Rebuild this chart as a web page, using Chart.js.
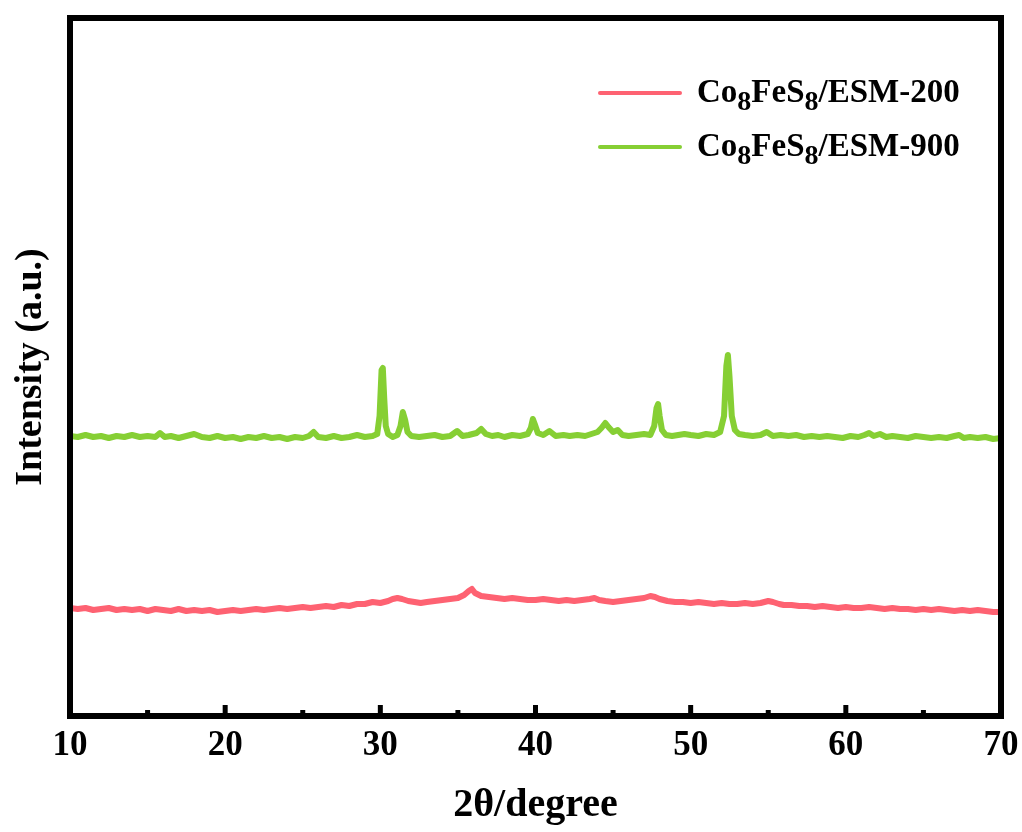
<!DOCTYPE html>
<html>
<head>
<meta charset="utf-8">
<title>XRD Co8FeS8/ESM</title>
<script src="https://cdn.jsdelivr.net/npm/chart.js@4/dist/chart.umd.min.js"></script>
<style>
  body { margin: 0; background: #fff; }
  canvas { display: block; }
</style>
</head>
<body>
<canvas id="xrdChart" width="1022" height="832"></canvas>
<script>
// 2theta (degree) and intensity (a.u., offset stacked)
const esm200Theta = [
  10.0, 10.5, 11.0, 11.5, 12.0, 12.5, 13.0, 13.5, 14.0, 14.5, 15.0, 15.5, 16.0, 16.5, 17.0, 17.5,
  18.0, 18.5, 19.0, 19.5, 20.0, 20.5, 21.0, 21.5, 22.0, 22.5, 23.0, 23.5, 24.0, 24.5, 25.0, 25.5,
  26.0, 26.5, 27.0, 27.5, 28.0, 28.5, 29.0, 29.5, 30.0, 30.5, 30.8, 31.1, 31.4, 31.8, 32.2, 32.6,
  33.0, 33.5, 34.0, 34.5, 35.0, 35.4, 35.7, 35.9, 36.1, 36.5, 37.0, 37.5, 38.0, 38.5, 39.0, 39.5,
  40.0, 40.5, 41.0, 41.5, 42.0, 42.5, 43.0, 43.5, 43.8, 44.1, 44.5, 45.0, 45.5, 46.0, 46.5, 47.0,
  47.4, 47.7, 48.0, 48.5, 49.0, 49.5, 50.0, 50.5, 51.0, 51.5, 52.0, 52.5, 53.0, 53.5, 54.0, 54.5,
  55.0, 55.3, 55.7, 56.0, 56.5, 57.0, 57.5, 58.0, 58.5, 59.0, 59.5, 60.0, 60.5, 61.0, 61.5, 62.0,
  62.5, 63.0, 63.5, 64.0, 64.5, 65.0, 65.5, 66.0, 66.5, 67.0, 67.5, 68.0, 68.5, 69.0, 69.5, 70.0
];
const esm200Intensity = [
  108, 107, 108, 106, 107, 108, 106, 107, 106, 107, 105, 107, 106, 105, 107, 105,
  106, 105, 106, 104, 105, 106, 105, 106, 107, 106, 107, 108, 107, 108, 109, 108,
  109, 110, 109, 111, 110, 112, 112, 114, 113, 115, 117, 118, 117, 115, 114, 113,
  114, 115, 116, 117, 118, 121, 125, 127, 123, 120, 119, 118, 117, 118, 117, 116,
  116, 117, 116, 115, 116, 115, 116, 117, 118, 116, 115, 114, 115, 116, 117, 118,
  120, 119, 117, 115, 114, 114, 113, 114, 113, 112, 113, 112, 112, 113, 112, 113,
  115, 114, 112, 111, 111, 110, 110, 109, 110, 109, 108, 109, 108, 108, 109, 108,
  107, 108, 107, 107, 106, 107, 106, 107, 106, 105, 106, 105, 106, 105, 104, 104
];

const esm900Theta = [
  10.0, 10.5, 11.0, 11.5, 12.0, 12.5, 13.0, 13.5, 14.0, 14.5, 15.0, 15.5, 15.8, 16.1, 16.5, 17.0,
  17.5, 18.0, 18.5, 19.0, 19.5, 20.0, 20.5, 21.0, 21.5, 22.0, 22.5, 23.0, 23.5, 24.0, 24.5, 25.0,
  25.4, 25.7, 26.0, 26.5, 27.0, 27.5, 28.0, 28.5, 29.0, 29.5, 29.8, 29.95, 30.08, 30.16, 30.25, 30.35,
  30.5, 30.8, 31.1, 31.3, 31.45, 31.6, 31.75, 32.0, 32.5, 33.0, 33.5, 34.0, 34.5, 34.95, 35.3, 35.7,
  36.2, 36.5, 36.8, 37.2, 37.6, 38.0, 38.5, 39.0, 39.5, 39.7, 39.83, 39.95, 40.15, 40.5, 40.9, 41.3,
  41.8, 42.2, 42.7, 43.2, 43.6, 44.0, 44.25, 44.5, 44.7, 45.0, 45.3, 45.6, 46.0, 46.5, 47.0, 47.4,
  47.65, 47.8, 47.9, 48.0, 48.15, 48.4, 48.8, 49.2, 49.6, 50.0, 50.5, 51.0, 51.5, 51.9, 52.15, 52.3,
  52.4, 52.5, 52.65, 52.85, 53.1, 53.5, 54.0, 54.5, 54.9, 55.3, 55.8, 56.3, 56.8, 57.3, 57.8, 58.3,
  58.8, 59.3, 59.8, 60.3, 60.8, 61.2, 61.5, 61.8, 62.2, 62.6, 63.0, 63.5, 64.0, 64.5, 65.0, 65.5,
  66.0, 66.5, 67.0, 67.3, 67.6, 68.0, 68.5, 69.0, 69.5, 70.0
];
const esm900Intensity = [
  280, 279, 281, 279, 280, 278, 280, 279, 281, 279, 280, 279, 283, 279, 280, 278,
  280, 282, 279, 278, 280, 278, 279, 277, 279, 278, 280, 278, 279, 277, 279, 278,
  280, 284, 279, 278, 280, 278, 279, 281, 279, 280, 282, 300, 346, 348, 318, 290,
  282, 279, 281, 290, 304, 296, 284, 280, 279, 280, 281, 279, 280, 285, 280, 281,
  283, 287, 282, 280, 281, 279, 281, 280, 282, 288, 297, 292, 283, 281, 285, 280,
  281, 280, 281, 280, 282, 284, 288, 293, 289, 284, 286, 281, 280, 281, 282, 281,
  290, 308, 312, 300, 286, 281, 280, 281, 282, 281, 280, 282, 281, 284, 300, 350,
  361, 340, 300, 286, 282, 281, 280, 281, 284, 280, 281, 280, 281, 279, 280, 279,
  280, 279, 278, 280, 279, 281, 283, 280, 282, 279, 280, 279, 278, 280, 279, 278,
  279, 278, 280, 281, 278, 279, 278, 279, 277, 278
];

const seriesLabels = ['Co8FeS8/ESM-200', 'Co8FeS8/ESM-900'];
const seriesColors = ['#fe6272', '#86cf34'];
const xTicks = [10, 20, 30, 40, 50, 60, 70];

const serif = "'Liberation Serif', 'Times New Roman', serif";

function toPoints(xs, ys) {
    return xs.map((x, i) => ({ x: x, y: ys[i] }));
}

// black box around the plot with inward ticks on the bottom axis
const framePlugin = {
    id: 'frame',
    afterDatasetsDraw(chart) {
        const { ctx, chartArea } = chart;
        const xScale = chart.scales.x;
        ctx.save();
        ctx.strokeStyle = '#000';
        ctx.lineWidth = 6;
        ctx.strokeRect(chartArea.left, chartArea.top, chartArea.right - chartArea.left, chartArea.bottom - chartArea.top);

        ctx.lineWidth = 5;
        ctx.lineCap = 'butt';
        const inner = chartArea.bottom - 3;
        xTicks.forEach((t, i) => {
            const px = xScale.getPixelForValue(t);
            ctx.beginPath();
            ctx.moveTo(px, inner);
            ctx.lineTo(px, inner - 8);
            ctx.stroke();
            if (i < xTicks.length - 1) {
                const mx = xScale.getPixelForValue(t + 5);
                ctx.beginPath();
                ctx.moveTo(mx, inner);
                ctx.lineTo(mx, inner - 3);
                ctx.stroke();
            }
        });
        ctx.restore();
    }
};

// legend with subscripted digits (digit right after a letter)
const subLegendPlugin = {
    id: 'subLegend',
    afterDraw(chart) {
        const { ctx } = chart;
        ctx.save();
        chart.data.datasets.forEach((ds, i) => {
            const y = 93 + i * 54;
            ctx.strokeStyle = ds.borderColor;
            ctx.lineWidth = 4;
            ctx.lineCap = 'round';
            ctx.beginPath();
            ctx.moveTo(600, y);
            ctx.lineTo(680, y);
            ctx.stroke();

            let x = 697;
            ctx.fillStyle = '#000';
            ctx.textBaseline = 'middle';
            const text = ds.label;
            for (let k = 0; k < text.length; k++) {
                const ch = text[k];
                const isSub = /[0-9]/.test(ch) && k > 0 && /[A-Za-z]/.test(text[k - 1]);
                if (isSub) {
                    ctx.font = 'bold 28px ' + serif;
                    ctx.fillText(ch, x, y + 10);
                } else {
                    ctx.font = 'bold 33px ' + serif;
                    ctx.fillText(ch, x, y);
                }
                x += ctx.measureText(ch).width;
            }
        });
        ctx.restore();
    }
};

const ctx = document.getElementById('xrdChart').getContext('2d');
new Chart(ctx, {
    type: 'line',
    data: {
        datasets: [
            {
                label: seriesLabels[0],
                data: toPoints(esm200Theta, esm200Intensity),
                borderColor: seriesColors[0],
                borderWidth: 6,
                borderJoinStyle: 'round',
                borderCapStyle: 'round',
                pointRadius: 0,
                tension: 0
            },
            {
                label: seriesLabels[1],
                data: toPoints(esm900Theta, esm900Intensity),
                borderColor: seriesColors[1],
                borderWidth: 6,
                borderJoinStyle: 'round',
                borderCapStyle: 'round',
                pointRadius: 0,
                tension: 0
            }
        ]
    },
    options: {
        responsive: false,
        animation: false,
        layout: { padding: { left: 0, top: 18, right: 21, bottom: 0 } },
        plugins: {
            legend: { display: false },
            tooltip: { enabled: false }
        },
        scales: {
            x: {
                type: 'linear',
                min: 10,
                max: 70,
                afterBuildTicks: (scale) => { scale.ticks = xTicks.map(v => ({ value: v })); },
                afterFit: (scale) => {
                    scale.height = 116;
                    scale.paddingLeft = 0;
                    scale.paddingRight = 0;
                },
                ticks: {
                    color: '#000',
                    padding: 9,
                    maxRotation: 0,
                    font: { family: serif, size: 35, weight: 'bold' }
                },
                grid: { display: false, drawTicks: false },
                border: { display: false },
                title: {
                    display: true,
                    text: '2θ/degree',
                    color: '#000',
                    padding: { top: 0, bottom: 2 },
                    font: { family: serif, size: 40, weight: 'bold' }
                }
            },
            y: {
                min: 0,
                max: 698,
                afterFit: (scale) => { scale.width = 70; },
                ticks: { display: false },
                grid: { display: false, drawTicks: false },
                border: { display: false },
                title: {
                    display: true,
                    text: 'Intensity (a.u.)',
                    color: '#000',
                    padding: { top: 8, bottom: 0 },
                    font: { family: serif, size: 38, weight: 'bold' }
                }
            }
        }
    },
    plugins: [framePlugin, subLegendPlugin]
});
</script>
</body>
</html>
